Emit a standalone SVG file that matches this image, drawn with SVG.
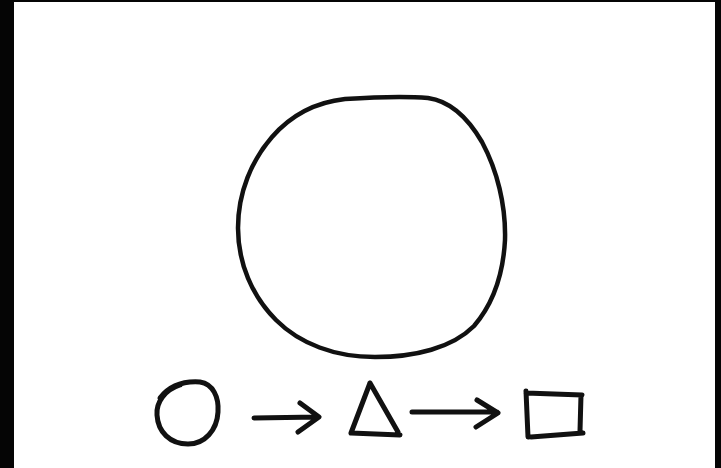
<svg xmlns="http://www.w3.org/2000/svg" width="721" height="468" viewBox="0 0 721 468">
<style>
.ink{fill:none;stroke:#111;stroke-linecap:round;stroke-linejoin:round}
.big{stroke-width:4.5}
.sm{stroke-width:5}
</style>
<rect x="0" y="0" width="721" height="468" fill="#fff"/>
<g id="frame" fill="#050505">
<rect x="0" y="0" width="14" height="468"/>
<rect x="0" y="0" width="721" height="2"/>
<rect x="715" y="0" width="6" height="468"/>
</g>
<g id="big-circle">
<path class="ink big" d="M345,99 C375,97 405,96 428,98 C450,101 468,118 482,142 C497,170 506,205 505,240 C503,278 492,305 474,326 C452,348 415,357 375,357 C335,357 300,344 276,320 C252,296 238,263 238,228 C238,192 252,160 272,137 C292,114 318,102 345,99 Z"/>
</g>
<g id="small-circle">
<path class="ink sm" d="M160,398 C170,385 185,381 200,382 C213,384 219,397 218,412 C217,430 205,444 188,444 C170,444 158,432 157,415 C156,402 165,390 180,385"/>
<path class="ink" stroke-width="2.5" d="M162,396 C156,405 155,418 160,428"/>
</g>
<g id="triangle">
<path class="ink sm" d="M370,383 L351,433 M370,383 L398,432 M351,433 L400,435"/>
</g>
<g id="rectangle">
<path class="ink sm" d="M526,391 L528,437 M526,393 L582,395 M581,395 L580,431 M531,437 L583,433"/>
</g>
<g id="connectors">
<path class="ink sm" d="M254,418 L318,417 M300,403 L319,417 L298,432"/>
<path class="ink sm" d="M412,412 L497,412 M477,400 L498,413 L476,427"/>
</g>
</svg>
